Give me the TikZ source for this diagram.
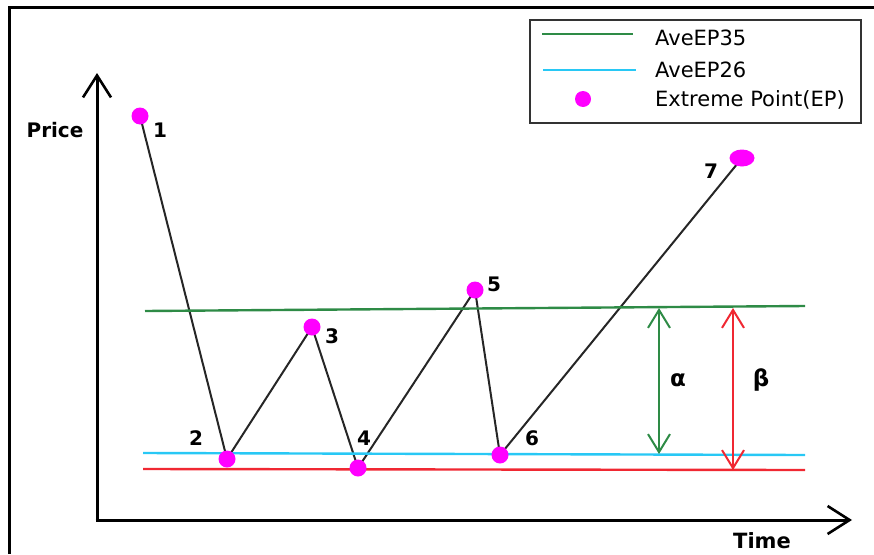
\documentclass[tikz,border=0pt]{standalone}
\usepackage{fontspec}
\setmainfont{DejaVu Sans}
\usetikzlibrary{arrows.meta,shapes.geometric,backgrounds}
\definecolor{epgreen}{RGB}{46,139,70}
\definecolor{epcyan}{RGB}{40,200,245}
\definecolor{epred}{RGB}{240,40,50}
\definecolor{epmag}{RGB}{255,0,255}
\tikzset{
  ep/.style={circle,fill=epmag,inner sep=0pt,minimum size=17pt},
  lbl/.style={font=\fontsize{20}{20}\selectfont\bfseries,inner sep=0pt},
  greek/.style={font=\fontsize{23}{23}\selectfont\bfseries,inner sep=0pt},
  legtxt/.style={font=\fontsize{21}{21}\selectfont,anchor=west,inner sep=0pt},
  axis/.style={line width=3pt,-{Straight Barb[length=22pt,width=28pt,line width=2.6pt]}},
  span/.style={line width=2.2pt,{Straight Barb[length=18pt,width=22pt,line width=2pt]}-{Straight Barb[length=18pt,width=22pt,line width=2pt]}},
  level/.style={line width=2.4pt},
  link/.style={line width=2pt,black!85}
}
\begin{document}
\begin{tikzpicture}[x=1pt,y=-1pt]
\useasboundingbox (0,0) rectangle (874,554);
% outer frame
\draw[line width=3pt] (9,554) -- (9,7) -- (874,7);
% legend
\draw[line width=2pt,black!80] (530,20) rectangle (861,123);
\coordinate (lg1a) at (542,34); \coordinate (lg1b) at (633,34);
\coordinate (lg2a) at (543,70); \coordinate (lg2b) at (636,70);
\draw[epgreen,level] (lg1a) -- (lg1b);
\draw[epcyan,level] (lg2a) -- (lg2b);
\node[ep,minimum size=16pt] (lgdot) at (583,99) {};
\node[legtxt] (t1) at (655,38) {AveEP35};
\node[legtxt] (t2) at (655,70) {AveEP26};
\node[legtxt] (t3) at (655,100) {Extreme Point(EP)};
% axes
\coordinate (o) at (97,521);
\coordinate (ytip) at (97,73);
\coordinate (o2) at (95.5,520);
\coordinate (xtip) at (852,520);
\draw[axis] (o) -- (ytip);
\draw[axis] (o2) -- (xtip);
\node[font=\fontsize{20}{20}\selectfont\bfseries] (price) at (55,130) {Price};
\node[font=\fontsize{21}{21}\selectfont\bfseries] (time) at (762,541) {Time};
% horizontal levels
\coordinate (g1) at (145,311); \coordinate (g2) at (805,306);
\coordinate (c1) at (143,453); \coordinate (c2) at (805,455);
\coordinate (r1) at (143,469); \coordinate (r2) at (805,470);
\draw[epgreen,level] (g1) -- (g2);
\draw[epcyan,level] (c1) -- (c2);
\draw[epred,level] (r1) -- (r2);
% extreme points
\node[ep] (p1) at (140,116) {};
\node[ep] (p2) at (227,459) {};
\node[ep] (p3) at (312,327) {};
\node[ep] (p4) at (358,468) {};
\node[ep] (p5) at (475,290) {};
\node[ep] (p6) at (500,455) {};
\node[ep,ellipse,minimum width=25pt,minimum height=17pt] (p7) at (742,158) {};
\begin{scope}[on background layer]
\draw[link] (p1.center) -- (p2.center) -- (p3.center) -- (p4.center) -- (p5.center) -- (p6.center) -- (p7.center);
\end{scope}
% labels
\node[lbl] (l1) at (160,130) {1};
\node[lbl] (l2) at (196,438) {2};
\node[lbl] (l3) at (332,336) {3};
\node[lbl] (l4) at (364,438) {4};
\node[lbl] (l5) at (494,284) {5};
\node[lbl] (l6) at (532,438) {6};
\node[lbl] (l7) at (711,171) {7};
% alpha / beta spans
\coordinate (a1) at (659,308); \coordinate (a2) at (659,454);
\coordinate (b1) at (733,308); \coordinate (b2) at (733,470);
\draw[span,epgreen] (a1) -- (a2);
\draw[span,epred] (b1) -- (b2);
\node[greek] (alpha) at (678,380) {α};
\node[greek] (beta) at (761,380) {β};
\end{tikzpicture}
\end{document}
